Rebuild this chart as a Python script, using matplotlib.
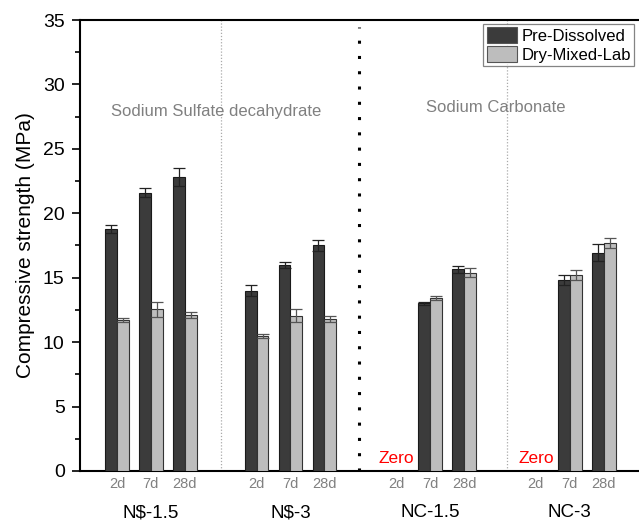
import numpy as np
import matplotlib.pyplot as plt
from matplotlib.ticker import MultipleLocator
from matplotlib.transforms import blended_transform_factory

plt.rcParams['font.family'] = ['Liberation Sans', 'DejaVu Sans']

groups = ['N$-1.5', 'N$-3', 'NC-1.5', 'NC-3']
ages = ['2d', '7d', '28d']

pre_dissolved = [18.8, 21.6, 22.8,
                 14.0, 16.0, 17.5,
                 0.0, 13.0, 15.65,
                 0.0, 14.8, 16.95]
pre_err = [0.3, 0.35, 0.7,
           0.4, 0.25, 0.45,
           0.0, 0.15, 0.25,
           0.0, 0.4, 0.65]
dry_mixed = [11.7, 12.55, 12.1,
             10.45, 12.05, 11.8,
             0.0, 13.4, 15.4,
             0.0, 15.2, 17.7]
dry_err = [0.15, 0.6, 0.2,
           0.15, 0.5, 0.25,
           0.0, 0.15, 0.35,
           0.0, 0.4, 0.4]

group_gap = 4.12
w = 0.35
x = np.array([g * group_gap + a for g in range(len(groups)) for a in range(len(ages))])

fig = plt.figure(figsize=(6.39, 5.25), dpi=100)
ax = fig.add_axes([0.1252, 0.1029, 0.88, 0.859])

has_pre = np.array(pre_dissolved) > 0
has_dry = np.array(dry_mixed) > 0
ax.bar(x[has_pre] - w / 2, np.array(pre_dissolved)[has_pre], w,
       color='#3b3b3b', edgecolor='#1a1a1a', linewidth=0.8,
       yerr=np.array(pre_err)[has_pre], capsize=4,
       error_kw=dict(ecolor='#222222', elinewidth=0.9, capthick=0.9),
       label='Pre-Dissolved', zorder=3)
ax.bar(x[has_dry] + w / 2, np.array(dry_mixed)[has_dry], w,
       color='#bdbdbd', edgecolor='#333333', linewidth=0.8,
       yerr=np.array(dry_err)[has_dry], capsize=4,
       error_kw=dict(ecolor='#555555', elinewidth=0.9, capthick=0.9),
       label='Dry-Mixed-Lab', zorder=3)

# "Zero" markers for the 2-day sodium carbonate samples
for i in range(len(x)):
    if not has_pre[i] and not has_dry[i]:
        ax.text(x[i], 0.95, 'Zero', color='red', fontsize=12.5,
                ha='center', va='center')

# separators between mixes
ax.axvline(3.06, color='#aaaaaa', linestyle=(0, (1, 1.5)), linewidth=0.9, zorder=1)
ax.axvline(11.5, color='#aaaaaa', linestyle=(0, (1, 1.5)), linewidth=0.9, zorder=1)
ax.axvline(7.15, ymax=0.985, color='black', linestyle=(0, (1, 4)),
           linewidth=2.2, zorder=1)

ax.text(2.94, 27.9, 'Sodium Sulfate decahydrate', color='#808080',
        fontsize=12, ha='center', va='center')
ax.text(11.18, 28.2, 'Sodium Carbonate', color='#808080',
        fontsize=12, ha='center', va='center')

ax.set_xlim(-1.09, 15.5)
ax.set_ylim(0, 35)
ax.yaxis.set_major_locator(MultipleLocator(5))
ax.yaxis.set_minor_locator(MultipleLocator(2.5))
ax.tick_params(axis='y', which='major', direction='out', length=6, width=1.2,
               labelsize=14, pad=5)
ax.tick_params(axis='y', which='minor', direction='out', length=3.5, width=1.2)
ax.set_xticks(x)
ax.set_xticklabels(ages * len(groups), color='#808080', fontsize=10.5)
ax.tick_params(axis='x', length=0, pad=4)

trans = blended_transform_factory(ax.transData, ax.transAxes)
for g, name in enumerate(groups):
    ax.text(g * group_gap + 1, -0.093, name, transform=trans,
            fontsize=13.5, ha='center', va='center')

ax.set_ylabel('Compressive strength (MPa)', fontsize=15, labelpad=6)

for s in ['left', 'bottom', 'top']:
    ax.spines[s].set_linewidth(1.5)
ax.spines['right'].set_visible(False)

leg = ax.legend(loc='upper right', bbox_to_anchor=(0.986, 0.992), fontsize=12,
                frameon=True, fancybox=False, edgecolor='#666666',
                handlelength=1.85, handleheight=1.1, labelspacing=0.15,
                handletextpad=0.25, borderpad=0.2, borderaxespad=0)
leg.get_frame().set_linewidth(0.9)
for h in leg.legend_handles:
    h.set_edgecolor('#555555')

fig.savefig('out.png', dpi=100)
